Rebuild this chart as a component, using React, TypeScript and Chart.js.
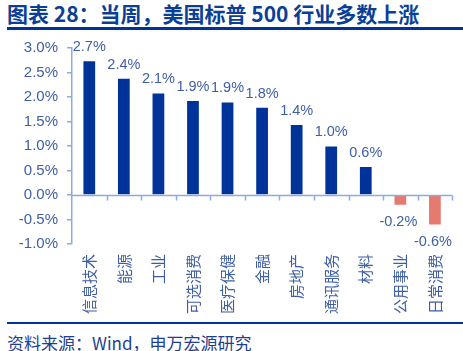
import React, { useEffect, useRef } from "react";
import { Chart, registerables } from "chart.js";

Chart.register(...registerables);

const categories = ["信息技术", "能源", "工业", "可选消费", "医疗保健", "金融", "房地产", "通讯服务", "材料", "公用事业", "日常消费"];
const weeklyReturns = [2.73, 2.37, 2.07, 1.92, 1.89, 1.78, 1.43, 0.99, 0.57, -0.2, -0.6];
const yTicks = [-1.0, -0.5, 0.0, 0.5, 1.0, 1.5, 2.0, 2.5, 3.0];

const TITLE = "图表 28：当周，美国标普 500 行业多数上涨";
const SOURCE = "资料来源：Wind，申万宏源研究";

const BLUE = "#003399";
const RED = "#E57B70";
const AXIS = "#8FAAE0";
const LABEL = "#3E5EA6";
const NUMFONT = "'Liberation Sans', Arial, sans-serif";
const CJKFONT = "'Noto Sans CJK SC', 'Noto Sans', sans-serif";

const axisPlugin = {
  id: "zeroAxis",
  afterDatasetsDraw(chart: any) {
    const { ctx, chartArea, scales } = chart;
    const y0 = Math.round(scales.y.getPixelForValue(0)) + 0.5;
    ctx.save();
    ctx.strokeStyle = AXIS;
    ctx.lineWidth = 1.5;
    ctx.beginPath();
    ctx.moveTo(chartArea.left, y0);
    ctx.lineTo(chartArea.right, y0);
    const n = categories.length;
    const w = (chartArea.right - chartArea.left) / n;
    for (let i = 1; i <= n; i++) {
      const x = Math.round(chartArea.left + i * w) + 0.5;
      ctx.moveTo(x, y0);
      ctx.lineTo(x, y0 + 5);
    }
    ctx.stroke();
    ctx.restore();
  },
};

const labelPlugin = {
  id: "valueLabels",
  afterDatasetsDraw(chart: any) {
    const { ctx } = chart;
    const meta = chart.getDatasetMeta(0);
    ctx.save();
    ctx.font = `14.5px ${NUMFONT}`;
    ctx.fillStyle = LABEL;
    ctx.textAlign = "center";
    meta.data.forEach((bar: any, i: number) => {
      const v = weeklyReturns[i];
      const txt = v.toFixed(1) + "%";
      if (v >= 0) {
        ctx.textBaseline = "bottom";
        ctx.fillText(txt, bar.x, bar.y - 7);
      } else {
        ctx.textBaseline = "top";
        ctx.fillText(txt, bar.x - 2, bar.y + 10);
      }
    });
    ctx.restore();
  },
};

function BarChart() {
  const ref = useRef<HTMLCanvasElement>(null);
  useEffect(() => {
    if (!ref.current) return;
    const chart = new Chart(ref.current, {
      type: "bar",
      data: {
        labels: categories,
        datasets: [
          {
            data: weeklyReturns,
            backgroundColor: weeklyReturns.map((v) => (v >= 0 ? BLUE : RED)),
            borderWidth: 0,
            barPercentage: 0.34,
            categoryPercentage: 1,
          },
        ],
      },
      options: {
        animation: false,
        responsive: false,
        maintainAspectRatio: false,
        layout: { padding: { top: 16, right: 2, left: 0, bottom: 0 } },
        plugins: { legend: { display: false }, tooltip: { enabled: false } },
        scales: {
          x: {
            grid: { display: false, drawTicks: false },
            border: { display: false },
            ticks: {
              autoSkip: false,
              maxRotation: 90,
              minRotation: 90,
              padding: 10,
              color: LABEL,
              font: { family: CJKFONT, size: 15 },
            },
            afterFit: (scale: any) => {
              scale.height = 76;
            },
          },
          y: {
            min: -1,
            max: 3,
            afterBuildTicks: (scale: any) => {
              scale.ticks = yTicks.map((v) => ({ value: v }));
            },
            grid: { drawOnChartArea: false, drawTicks: true, tickLength: 5, color: AXIS, lineWidth: 1.5 },
            border: { display: true, color: AXIS, width: 1.5 },
            ticks: {
              padding: 9,
              color: LABEL,
              font: { family: NUMFONT, size: 15 },
              callback: (v: any) => Number(v).toFixed(1) + "%",
            },
            afterFit: (scale: any) => {
              scale.width = 72;
            },
          },
        },
      },
      plugins: [axisPlugin, labelPlugin],
    });
    return () => chart.destroy();
  }, []);
  return <canvas ref={ref} width={463} height={290} style={{ position: "absolute", left: 0, top: 30, width: 463, height: 290 }} />;
}

export default function App() {
  return (
    <div style={{ position: "fixed", left: 0, top: 0, width: 463, height: 351, background: "#fff", overflow: "hidden" }}>
      <div
        style={{
          position: "absolute",
          left: 7,
          top: 0,
          fontFamily: CJKFONT,
          fontWeight: 700,
          fontSize: 21,
          lineHeight: "27px",
          color: "#0B3F96",
          whiteSpace: "nowrap",
        }}
      >
        {TITLE}
      </div>
      <div style={{ position: "absolute", left: 7, top: 27, width: 456, height: 2.5, background: "#003399" }} />
      <BarChart />
      <div style={{ position: "absolute", left: 7, top: 322, width: 456, height: 2, background: "#003399" }} />
      <div
        style={{
          position: "absolute",
          left: 7,
          top: 330,
          fontFamily: CJKFONT,
          fontSize: 17,
          lineHeight: "25px",
          color: "#1F3F8F",
          whiteSpace: "nowrap",
        }}
      >
        {SOURCE}
      </div>
    </div>
  );
}
